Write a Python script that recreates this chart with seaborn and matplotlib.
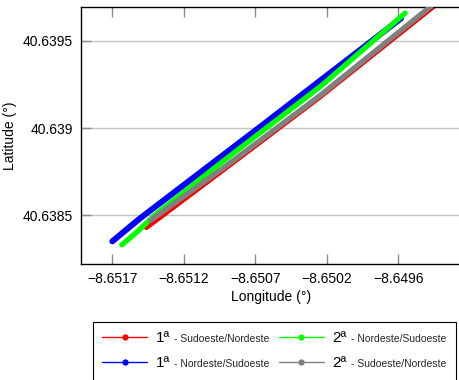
import numpy as np
import pandas as pd
import matplotlib
matplotlib.use("Agg")
import matplotlib.pyplot as plt
from matplotlib.lines import Line2D
from matplotlib.ticker import FuncFormatter, FixedLocator
import seaborn as sns

# trajectories (lon, lat)
red_lon = [-8.65149, -8.65091, -8.65021, -8.64938]
red_lat = [40.63843, 40.63877, 40.639183, 40.63970]

blue_lon = [-8.65174, -8.65154, -8.65065, -8.64962]
blue_lat = [40.63835, 40.63848, 40.63901, 40.63963]

green_lon = [-8.65167, -8.65155, -8.65143, -8.65091, -8.65021, -8.64959]
green_lat = [40.63833, 40.63841, 40.63850, 40.63882, 40.63924, 40.63966]

gray_lon = [-8.65146, -8.65091, -8.65021, -8.64940]
gray_lat = [40.63847, 40.63878, 40.63919, 40.63970]

ordinals = ["1ª", "1ª", "2ª", "2ª"]
directions = ["Sudoeste/Nordeste", "Nordeste/Sudoeste", "Nordeste/Sudoeste", "Sudoeste/Nordeste"]
colors = ["#ff0000", "#0000ff", "#00ff00", "#808080"]

x_ticks = [-8.65174, -8.651215, -8.65069, -8.650165, -8.64964]
y_ticks = [40.6385, 40.639, 40.6395]

sns.set_theme(style="white")
plt.rcParams["font.family"] = ["Liberation Sans", "DejaVu Sans"]

series = [(red_lon, red_lat), (blue_lon, blue_lat), (green_lon, green_lat), (gray_lon, gray_lat)]
frames = []
for i, (lon, lat) in enumerate(series):
    frames.append(pd.DataFrame({"lon": lon, "lat": lat, "run": i}))
df = pd.concat(frames, ignore_index=True)

fig = plt.figure(figsize=(4.59, 3.80), dpi=100)
ax = fig.add_axes([81 / 459, 116 / 380, 380 / 459, 257 / 380])

# draw order: red, gray, green, blue (blue on top)
for i, lw in [(0, 3.8), (3, 3.8), (2, 3.8), (1, 4.3)]:
    sns.lineplot(data=df[df["run"] == i], x="lon", y="lat", color=colors[i],
                 lw=lw, sort=False, estimator=None, ax=ax, legend=False,
                 solid_capstyle="round", zorder=2 + i)

ax.set_xlim(-8.65197, -8.64918)
ax.set_ylim(40.63822, 40.639695)
ax.xaxis.set_major_locator(FixedLocator(x_ticks))
ax.yaxis.set_major_locator(FixedLocator(y_ticks))
ax.xaxis.set_major_formatter(FuncFormatter(lambda v, p: f"{v:.4f}".replace("-", "\u2212")))
ax.yaxis.set_major_formatter(FuncFormatter(lambda v, p: f"{v:.4f}".rstrip("0")))

ax.yaxis.grid(True, color="#c4c4c4", lw=1)
ax.xaxis.grid(False)
ax.set_axisbelow(True)
for side in ["left", "bottom", "top"]:
    ax.spines[side].set_color("black")
    ax.spines[side].set_linewidth(1.0)
ax.spines["right"].set_visible(False)

ax.tick_params(axis="x", direction="in", length=7, width=1, color="#8a8a8a",
               top=True, bottom=True, pad=6, labelsize=10, labelcolor="black")
ax.tick_params(axis="y", direction="in", length=7, width=1, color="#8a8a8a",
               left=True, pad=6, labelsize=10, labelcolor="black")

ax.set_xlabel("Longitude (°)", fontsize=10, labelpad=3, color="black")
ax.set_ylabel("Latitude (°)", fontsize=10, labelpad=4, color="black")

handles = [Line2D([], [], color=c, lw=1, marker="o", ms=3.5) for c in colors]
labels = ["- " + d for d in directions]
leg = ax.legend(handles, labels, loc="upper left", ncol=2,
                bbox_to_anchor=(93 / 459, 1 - 322 / 380), bbox_transform=fig.transFigure,
                fontsize=7.5, frameon=True, fancybox=False, framealpha=1,
                edgecolor="black", handlelength=4.3, handleheight=1.8, handletextpad=2.6,
                columnspacing=0.9, labelspacing=1.0, borderpad=0.9, borderaxespad=0)
leg.get_frame().set_linewidth(0.8)

# bigger ordinal in front of each legend entry
for txt, ordinal in zip(leg.get_texts(), ordinals):
    ax.annotate(ordinal, xy=(0, 0), xycoords=txt, xytext=(-3.2, 1.6),
                textcoords="offset points", fontsize=11, va="baseline", ha="right",
                annotation_clip=False, zorder=10, color="black")

fig.canvas.draw()
fig.savefig("out.png", dpi=100)
